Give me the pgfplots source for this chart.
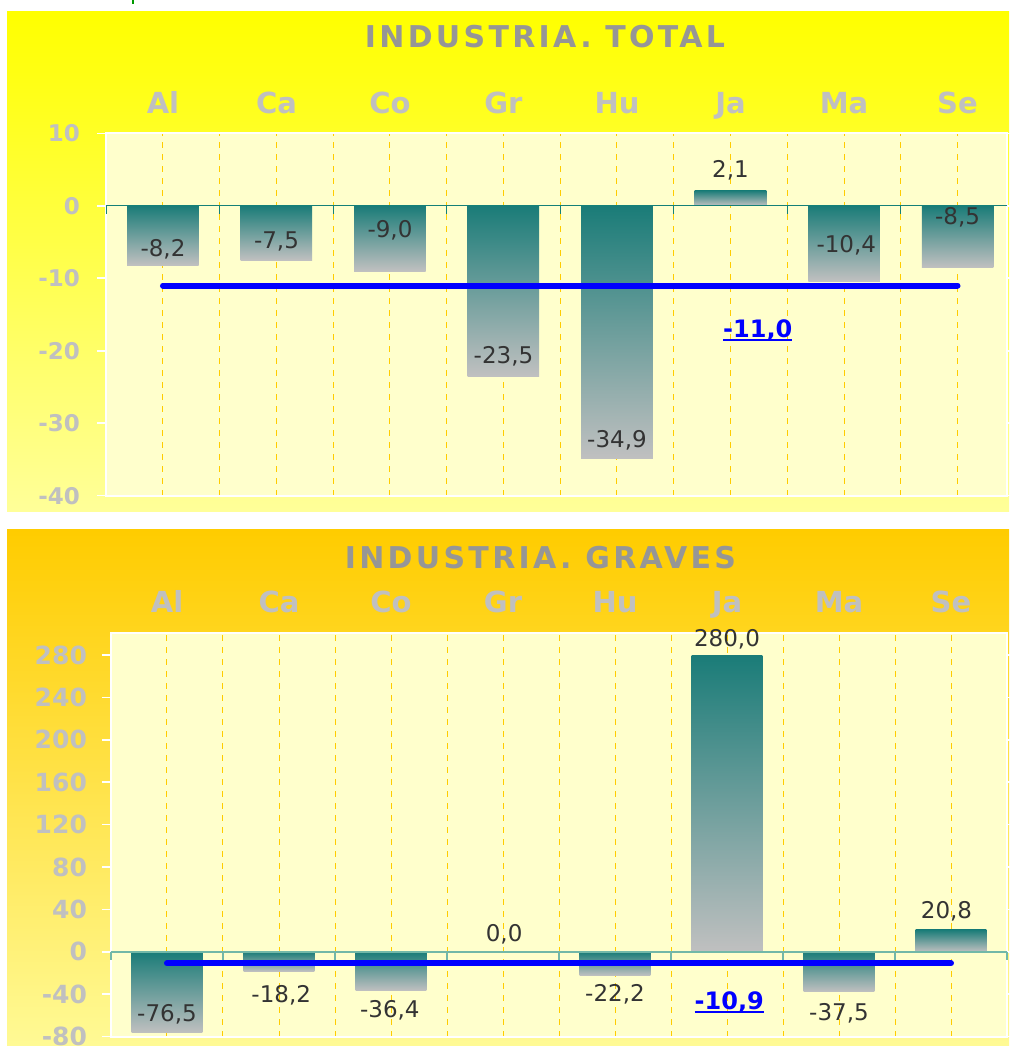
\documentclass[border=0pt]{standalone}
\usepackage{pgfplots}
\pgfplotsset{compat=1.18}
\usepackage{fontspec}
\setmainfont{DejaVu Sans}
\newfontfamily\spacedfont[LetterSpace=11]{DejaVu Sans}
\definecolor{titlegray}{HTML}{969696}
\definecolor{lblgray}{HTML}{C0C0C0}
\definecolor{plotbg}{HTML}{FFFFCC}
\definecolor{barteal}{HTML}{1A7C78}
\definecolor{bargray}{HTML}{C0C0C0}
\definecolor{gridgold}{HTML}{FFCC00}
\definecolor{valtext}{HTML}{333333}
\definecolor{zeroteal}{HTML}{148078}
\definecolor{zerolight}{HTML}{72B8A8}
\definecolor{bgtopA}{HTML}{FFFF00}
\definecolor{bgbotA}{HTML}{FFFF99}
\definecolor{bgtopB}{HTML}{FFCC00}
\definecolor{bgbotB}{HTML}{FFFA95}
\definecolor{meanblue}{HTML}{0000FF}

\newcommand\ul[1]{\setbox0\hbox{#1}\rlap{\rule[-2pt]{\wd0}{1pt}}\box0}

\tikzset{
  valnode/.style={text=valtext, font=\fontsize{11.5}{11.5}\selectfont, inner sep=0pt},
  meannode/.style={text=meanblue, font=\bfseries\fontsize{12}{12}\selectfont, inner sep=0pt},
}
\pgfplotsset{
  panel/.style={
    scale only axis, anchor=south west, clip=false,
    axis background/.style={fill=plotbg},
    axis line style={draw=white, line width=1pt},
    xtick={0,...,7},
    xticklabels={Al,Ca,Co,Gr,Hu,Ja,Ma,Se},
    xticklabel pos=upper,
    minor xtick={0.5,1.5,...,6.5},
    xmajorgrids, xminorgrids,
    major x grid style={gridgold, dash pattern=on 3pt off 3pt, line width=0.5pt},
    minor x grid style={gridgold, dash pattern=on 3pt off 3pt, line width=0.5pt},
    xtick style={draw=none}, minor tick length=0pt,
    ytick style={draw=white, line width=0.8pt},
    major tick length=4.5pt, tick align=outside,
    xticklabel style={font=\bfseries\fontsize{14.5}{14.5}\selectfont, text=lblgray, anchor=base},
  },
  shadedbar/.style={ybar, bar width=0.63, draw=none, top color=barteal, bottom color=bargray},
}

\begin{document}
\begin{tikzpicture}
\useasboundingbox (0pt,0pt) rectangle (504.5pt,523pt);
\shade[top color=bgtopA, bottom color=bgbotA] (3.5pt,267pt) rectangle (504.5pt,517pt);
\shade[top color=bgtopB, bottom color=bgbotB] (3.5pt,0pt) rectangle (504.5pt,258pt);
\draw[green!60!black, line width=1pt] (66.5pt,523pt) -- (66.5pt,521pt);

\node[anchor=base, text=titlegray, font=\spacedfont\bfseries\fontsize{15}{15}\selectfont] at (272.5pt,499.2pt) {INDUSTRIA. TOTAL};
\node[anchor=base, text=titlegray, font=\spacedfont\bfseries\fontsize{15}{15}\selectfont] at (270.25pt,238.85pt) {INDUSTRIA. GRAVES};

% ---------- TOP PANEL ----------
\begin{axis}[panel,
  at={(53pt,275.15pt)}, width=450.5pt, height=181.2pt,
  xmin=-0.502, xmax=7.436, ymin=-40, ymax=10,
  ytick={-40,-30,...,10}, yticklabels={-40,-30,-20,-10,0,10},
  yticklabel style={font=\bfseries\fontsize{11.5}{11.5}\selectfont, text=lblgray, anchor=east, xshift=-5pt},
  xticklabel style={yshift=5.5pt},
]
\addplot[shadedbar] coordinates {(0,-8.2)};
\addplot[shadedbar] coordinates {(1,-7.5)};
\addplot[shadedbar] coordinates {(2,-9.0)};
\addplot[shadedbar] coordinates {(3,-23.5)};
\addplot[shadedbar] coordinates {(4,-34.9)};
\addplot[shadedbar] coordinates {(5,2.1)};
\addplot[shadedbar] coordinates {(6,-10.4)};
\addplot[shadedbar] coordinates {(7,-8.5)};
\draw[zeroteal, line width=0.7pt] (axis cs:-0.502,0) -- (axis cs:7.436,0);
\pgfplotsinvokeforeach{-0.5,0.5,1.5,2.5,3.5,4.5,5.5,6.5}{\draw[zeroteal, line width=0.7pt] (axis cs:#1,0) -- ++(0pt,-4pt);}
\addplot[color=meanblue, line width=3pt, line cap=round] coordinates {(0,-11.0) (7,-11.0)};
\node[valnode] at (axis cs:0,-5.96) {-8,2};
\node[valnode] at (axis cs:1,-4.95) {-7,5};
\node[valnode] at (axis cs:2,-3.34) {-9,0};
\node[valnode] at (axis cs:3,-20.8) {-23,5};
\node[valnode] at (axis cs:4,-32.4) {-34,9};
\node[valnode] at (axis cs:5,4.9) {2,1};
\node[valnode] at (axis cs:6.02,-5.4) {-10,4};
\node[valnode] at (axis cs:7,-1.55) {-8,5};
\node[meannode] at (axis cs:5.24,-17.2) {\ul{-11,0}};
\end{axis}

% ---------- BOTTOM PANEL ----------
\begin{axis}[panel,
  at={(55.5pt,4.65pt)}, width=448pt, height=201.7pt,
  xmin=-0.5, xmax=7.5, ymin=-80, ymax=300.5,
  ytick={-80,-40,...,280}, yticklabels={-80,-40,0,40,80,120,160,200,240,280},
  yticklabel style={font=\bfseries\fontsize{12.5}{12.5}\selectfont, text=lblgray, anchor=east, xshift=-4pt},
  xticklabel style={yshift=5.8pt},
]
\addplot[shadedbar] coordinates {(0,-76.5)};
\addplot[shadedbar] coordinates {(1,-18.2)};
\addplot[shadedbar] coordinates {(2,-36.4)};
\addplot[ybar, bar width=0.63, draw=none, fill=none] coordinates {(3,0.0)};
\addplot[shadedbar] coordinates {(4,-22.2)};
\addplot[shadedbar] coordinates {(5,280.0)};
\addplot[shadedbar] coordinates {(6,-37.5)};
\addplot[shadedbar] coordinates {(7,20.8)};
\draw[zerolight, line width=1pt] (axis cs:-0.5,0) -- (axis cs:7.5,0);
\pgfplotsinvokeforeach{-0.5,0.5,1.5,2.5,3.5,4.5,5.5,6.5,7.5}{\draw[zerolight, line width=0.8pt] (axis cs:#1,0) -- ++(0pt,-4pt);}
\addplot[color=meanblue, line width=3pt, line cap=round] coordinates {(0,-10.9) (7,-10.9)};
\node[valnode] at (axis cs:0,-58.8) {-76,5};
\node[valnode] at (axis cs:1.02,-40.6) {-18,2};
\node[valnode] at (axis cs:1.99,-55) {-36,4};
\node[valnode] at (axis cs:3.01,16.7) {0,0};
\node[valnode] at (axis cs:4,-40.1) {-22,2};
\node[valnode] at (axis cs:5,295) {280,0};
\node[valnode] at (axis cs:6,-58.1) {-37,5};
\node[valnode] at (axis cs:6.96,38.6) {20,8};
\node[meannode] at (axis cs:5.02,-47.5) {\ul{-10,9}};
\end{axis}
\end{tikzpicture}
\end{document}
